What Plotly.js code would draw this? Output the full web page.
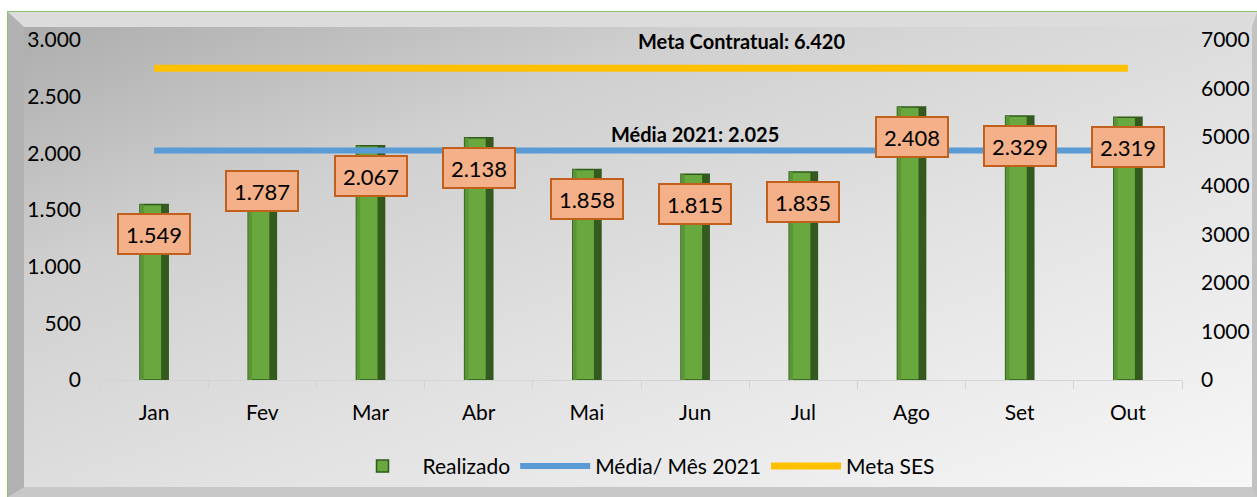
<!DOCTYPE html>
<html>
<head>
<meta charset="utf-8">
<script src="https://cdn.plot.ly/plotly-3.0.1.min.js"></script>
<style>
  html, body { margin:0; padding:0; background:#ffffff; }
  #wrap { position:absolute; left:0; top:0; width:1257px; height:497px; overflow:hidden; background:#ffffff; }
  #frame {
    position:absolute; left:7px; top:11px; width:1250px; height:486px; box-sizing:border-box;
    border-top:1px solid #8fc46a; border-left:1px solid #8fc46a;
  }
  #bevel {
    position:absolute; left:0; top:0; right:0; bottom:0; box-sizing:border-box;
    border-top:15px solid #dcdcdc; border-left:16px solid #b2b2b2;
    border-right:5px solid #c2c2c2; border-bottom:10px solid #c8c8c8;
    background: linear-gradient(160deg, #adadad 0%, #d0d0d0 28%, #e2e2e2 58%, #f7f7f7 100%);
  }
  #chart { position:absolute; left:0; top:0; width:1257px; height:497px; }
</style>
</head>
<body>
<div id="wrap">
  <div id="frame"><div id="bevel"></div></div>
  <div id="chart"></div>
</div>
<script>
const months = ['Jan','Fev','Mar','Abr','Mai','Jun','Jul','Ago','Set','Out'];
const realizado = [1549, 1787, 2067, 2138, 1858, 1815, 1835, 2408, 2329, 2319];
const mediaMes = 2025;
const metaSES = 6420;
const leftTicks = [0, 500, 1000, 1500, 2000, 2500, 3000];
const rightTicks = [0, 1000, 2000, 3000, 4000, 5000, 6000, 7000];

function fmt(v) {
  return String(v).replace(/\B(?=(\d{3})+(?!\d))/g, '.');
}

const FONT = 'Lato, "Open Sans", sans-serif';

const traces = [
  {
    type:'bar', name:'Realizado', x:months, y:realizado, width:0.26,
    marker:{color:'#68a83e', line:{color:'#2e5a1a', width:1.5}},
    hoverinfo:'x+y'
  },
  {
    type:'bar', name:'Realizado', x:months, y:realizado, width:0.065, offset:0.065,
    marker:{color:'#345a20', line:{width:0}}, showlegend:false, hoverinfo:'skip'
  },
  {
    type:'bar', name:'Realizado', x:months, y:realizado, width:0.035, offset:-0.13,
    marker:{color:'#5a9536', line:{width:0}}, showlegend:false, hoverinfo:'skip'
  },
  {
    type:'scatter', mode:'lines', name:'Média/ Mês 2021', x:months, y:months.map(()=>mediaMes),
    line:{color:'#5b9bd5', width:6}
  },
  {
    type:'scatter', mode:'lines', name:'Meta SES', x:months, y:months.map(()=>metaSES), yaxis:'y2',
    line:{color:'#ffc000', width:7}
  }
];

const annotations = realizado.map((v,i)=>({
  x: months[i], y: v, xref:'x', yref:'y',
  text: fmt(v), showarrow:false,
  yshift: i === 1 ? -14 : -30,
  font:{family:FONT, size:22, color:'#000'},
  bgcolor:'#f4b088', bordercolor:'#c0601c', borderwidth:2, borderpad:3,
  width:64, height:32
}));
annotations.push({
  xref:'paper', x:0.593, y:metaSES, yref:'y2', yshift:27, showarrow:false,
  text:'<b>Meta Contratual: ' + fmt(metaSES) + '</b>',
  font:{family:FONT, size:20, color:'#000'}
});
annotations.push({
  xref:'paper', x:0.55, y:mediaMes, yref:'y', yshift:17, showarrow:false,
  text:'<b>Média 2021: ' + fmt(mediaMes) + '</b>',
  font:{family:FONT, size:20, color:'#000'}
});

const layout = {
  width:1257, height:497,
  paper_bgcolor:'rgba(0,0,0,0)', plot_bgcolor:'rgba(0,0,0,0)',
  margin:{l:100, r:75, t:40, b:116},
  separators:',.',
  font:{family:FONT, size:21, color:'#000'},
  showlegend:true,
  barmode:'overlay',
  legend:{orientation:'h', x:0.5, xanchor:'center', y:-0.25, yanchor:'middle',
          font:{family:FONT, size:21, color:'#000'}, bgcolor:'rgba(0,0,0,0)', itemwidth:70, traceorder:'normal'},
  xaxis:{type:'category', range:[-0.5, 9.5], showgrid:false, zeroline:false,
         showline:true, linecolor:'#d4d4d4', linewidth:1,
         ticks:'outside', tickson:'boundaries', ticklen:8, tickcolor:'#d4d4d4',
         ticklabelstandoff:14, tickfont:{family:FONT, size:21, color:'#000'}},
  yaxis:{range:[0,3000], tickvals:leftTicks, ticktext:leftTicks.map(fmt),
         showgrid:false, zeroline:false, showline:false, ticks:'',
         ticklabelstandoff:18, tickfont:{family:FONT, size:21, color:'#000'}},
  yaxis2:{range:[0,7000], tickvals:rightTicks, ticktext:rightTicks.map(String),
          overlaying:'y', side:'right', showgrid:false, zeroline:false, showline:false, ticks:'',
          ticklabelstandoff:18, tickfont:{family:FONT, size:21, color:'#000'}},
  annotations:annotations
};

Plotly.newPlot('chart', traces, layout, {displayModeBar:false, staticPlot:true});
</script>
</body>
</html>
